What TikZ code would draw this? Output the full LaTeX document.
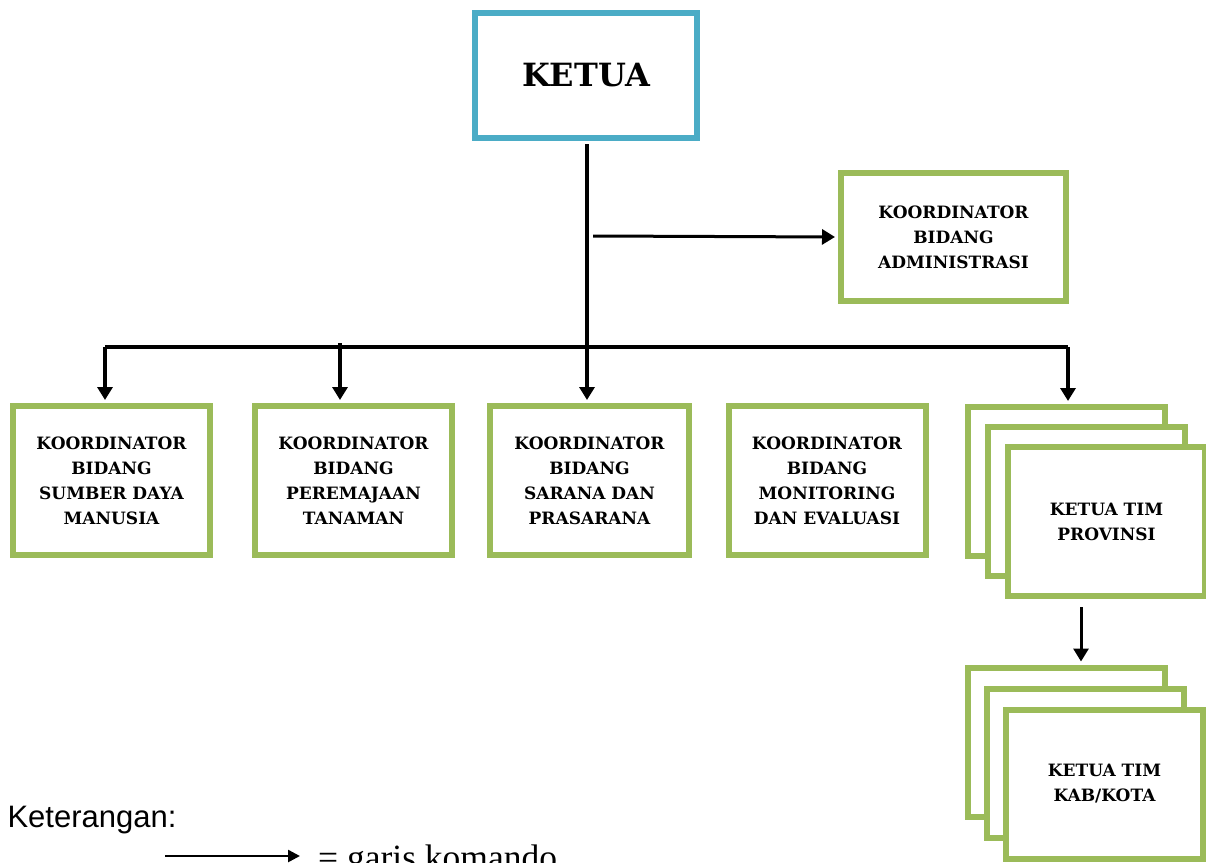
\documentclass[tikz,border=0pt]{standalone}
\usepackage{fontspec}
\setmainfont{Liberation Serif}
\setsansfont{Liberation Sans}
\newfontfamily\boxfont{DejaVu Serif}[BoldFont={DejaVu Serif Bold}]
\usetikzlibrary{arrows.meta}
\definecolor{boxgreen}{HTML}{9BBB59}
\definecolor{boxblue}{HTML}{4BACC6}

\begin{document}
\begin{tikzpicture}[x=1pt,y=-1pt,
    box/.style={draw=boxgreen,line width=6pt,fill=white,inner sep=0pt,
      minimum width=197pt,minimum height=149pt,align=center,
      font=\boxfont\bfseries\fontsize{17}{25}\selectfont},
    cmd/.style={line width=4pt,-{Triangle[width=15pt,length=13pt]},shorten >=3pt}]
  \useasboundingbox (0,0) rectangle (1206,862);
  \draw
    (586,75.5) node[box,draw=boxblue,minimum width=222pt,minimum height=125pt,
      font=\boxfont\bfseries\fontsize{32}{34}\selectfont] (ketua){KETUA}
    (953.5,237) node[box,minimum width=225pt,minimum height=128pt]
      (admin){KOORDINATOR\\BIDANG\\ADMINISTRASI}
    (111.5,480.5) node[box] (sdm){KOORDINATOR\\BIDANG\\SUMBER DAYA\\MANUSIA}
    (353.5,480.5) node[box] (tanaman){KOORDINATOR\\BIDANG\\PEREMAJAAN\\TANAMAN}
    (589.5,480.5) node[box,minimum width=199pt] (sarana){KOORDINATOR\\BIDANG\\SARANA DAN\\PRASARANA}
    (827,480.5) node[box] (monev){KOORDINATOR\\BIDANG\\MONITORING\\DAN EVALUASI}
    (1066.5,481.5) node[box] (prov1){}
    (1086.5,501.5) node[box] (prov2){}
    (1106.5,521.5) node[box] (prov3){KETUA TIM\\PROVINSI}
    (1066.5,742) node[box] (kab1){}
    (1085.5,763) node[box] (kab2){}
    (1104.5,784) node[box] (kab3){KETUA TIM\\KAB/KOTA};
  \coordinate (d1) at (105,347);
  \coordinate (d2) at (340,343);
  \coordinate (d3) at (587,347);
  \coordinate (d4) at (1068,347);
  \coordinate (adm) at (593,236);
  \coordinate (p1) at (1081,607);
  \begin{scope}[line width=4pt]
    \draw[shorten <=3pt] (d3 |- ketua.south) -- (d3);
    \draw (d1) -- (d4);
    \draw[cmd] (d1) -- (d1 |- sdm.north);
    \draw[cmd] (d2) -- (d2 |- tanaman.north);
    \draw[cmd] (d3) -- (d3 |- sarana.north);
    \draw[cmd] (d4) -- (d4 |- prov1.north);
    \draw[cmd,line width=3pt] (adm) -- (admin.west);
    \draw[cmd,line width=3pt] (p1) -- (p1 |- kab1.north);
  \end{scope}
  \node[anchor=west,font=\sffamily\fontsize{31}{34}\selectfont] (ket) at (4,820) {Keterangan:};
  \coordinate (l1) at (165,856);
  \coordinate (l2) at (300,856);
  \draw[line width=2.5pt,-{Triangle[width=12pt,length=12pt]}] (l1) -- (l2);
  \node[anchor=base west,inner sep=0pt,font=\fontsize{35.5}{38}\selectfont] (garis) at (318,869) {= garis komando};
\end{tikzpicture}
\end{document}
